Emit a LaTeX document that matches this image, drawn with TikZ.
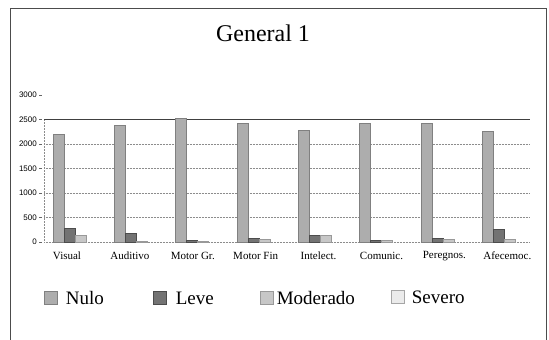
\documentclass[tikz,border=0pt]{standalone}
\usepackage{fontspec}
\setmainfont{Liberation Serif}
\newfontfamily\axisfont{Liberation Sans}
\usetikzlibrary{positioning}
\tikzset{
  grid line/.style={black!45,densely dotted,line width=0.5pt},
  axis label/.style={anchor=east,inner sep=1pt,font=\axisfont\fontsize{8}{9}\selectfont},
  cat label/.style={inner sep=0pt,font=\fontsize{11}{13}\selectfont},
  key box/.style={draw=black!60,line width=0.4pt,minimum size=13pt,inner sep=0pt},
  key text/.style={inner sep=0pt,anchor=west,font=\fontsize{19}{22}\selectfont},
  nulo/.style={fill=black!32,draw=black!50,line width=0.3pt},
  leve/.style={fill=black!55,draw=black!70,line width=0.3pt},
  moderado/.style={fill=black!22,draw=black!40,line width=0.3pt},
  severo/.style={fill=black!8,draw=black!35,line width=0.3pt}
}
\begin{document}
\begin{tikzpicture}[x=1pt,y=-1pt]
    \useasboundingbox (0,0) rectangle (549,340);
    \draw[black!70,line width=0.8pt] (10,345) -- (10,8) -- (546,8) -- (546,345);
    \node[font=\fontsize{24}{28}\selectfont] (title) at (263,33) {General 1};
    % ejes y rejilla
    \foreach \v in {0,500,...,3000} {
        \node[axis label] (y\v) at (38,{242-\v*0.049}) {\v};
        \draw[black!60,line width=0.4pt] (39,{242-\v*0.049}) -- (42,{242-\v*0.049});
    }
    \foreach \v in {0,500,1000,1500,2000}
        \draw[grid line] (44,{242-\v*0.049}) -- (530,{242-\v*0.049});
    \draw[black!75,line width=0.7pt] (44,{242-2500*0.049}) -- (530,{242-2500*0.049});
    \draw[grid line] (44,242) -- (44,{242-2500*0.049});
    % barras
    \foreach \n/\l/\m/\s/\cat [count=\i from 0] in {2200/280/130/0/Visual,2380/180/10/0/Auditivo,2530/40/20/0/Motor Gr.,2420/70/50/0/Motor Fin,2280/150/130/0/Intelect.,2430/40/30/0/Comunic.,2430/80/50/0/Peregnos.,2260/270/60/0/Afecemoc.} {
        \pgfmathsetmacro\xa{53+61.3*\i}
        \draw[nulo] (\xa,242) rectangle ++(11,{-\n*0.049});
        \draw[leve] ({\xa+11},242) rectangle ++(11,{-\l*0.049});
        \draw[moderado] ({\xa+22},242) rectangle ++(11,{-\m*0.049});
        \node[cat label] (cat\i) at ({67+62.9*\i},256) {\cat};
    }
    % leyenda
    \node[key box,nulo] (knulo) at (51,298) {};
    \node[key text,right=8pt of knulo] (tnulo) {Nulo};
    \node[key box,leve] (kleve) at (160,298) {};
    \node[key text,right=9pt of kleve] (tleve) {Leve};
    \node[key box,moderado] (kmod) at (267,298) {};
    \node[key text,right=3pt of kmod] (tmod) {Moderado};
    \node[key box,severo] (ksev) at (398,297) {};
    \node[key text,right=7pt of ksev] (tsev) {Severo};
\end{tikzpicture}
\end{document}
